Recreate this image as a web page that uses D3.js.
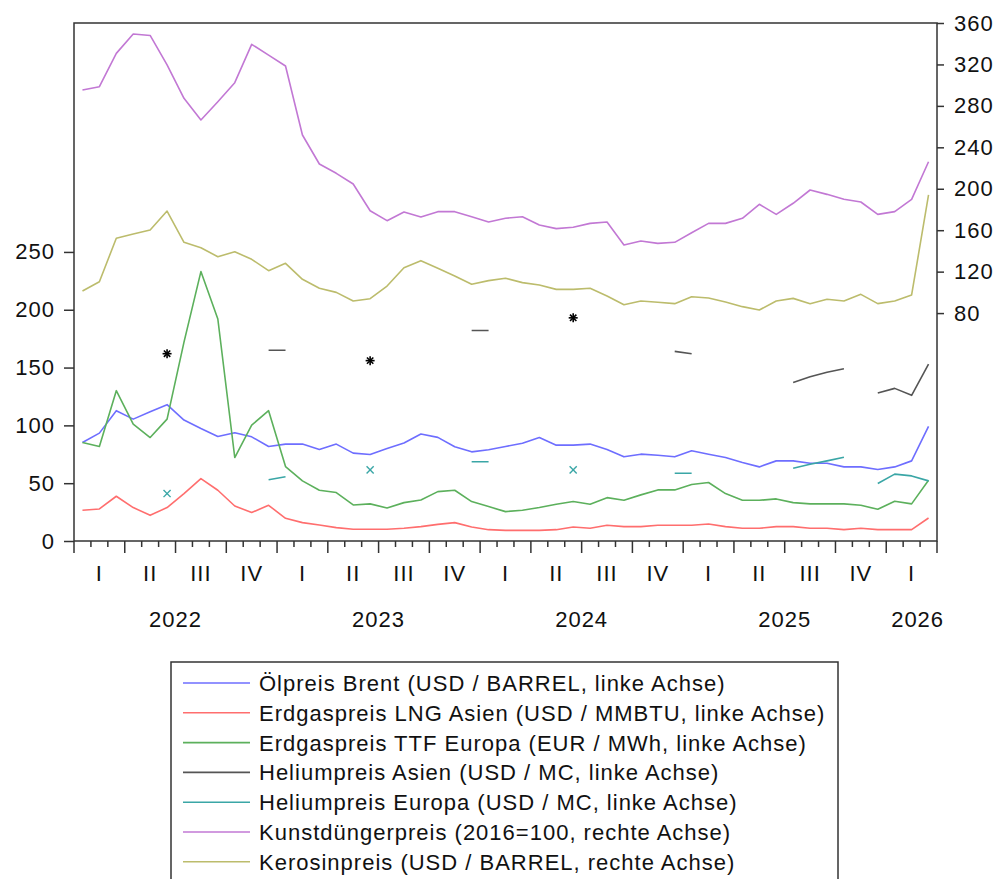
<!DOCTYPE html>
<html>
<head>
<meta charset="utf-8">
<script src="https://cdn.jsdelivr.net/npm/d3@7"></script>
<style>
  html, body { margin: 0; padding: 0; background: #fff; }
  svg { display: block; font-family: "Liberation Sans", Arial, sans-serif; }
  svg text { letter-spacing: 1px; }
</style>
</head>
<body>
<div id="chart"></div>
<script>
// monthly observations Jan 2022 .. Mar 2026 (51 months)
var months = ["2022-01","2022-02","2022-03","2022-04","2022-05","2022-06","2022-07","2022-08","2022-09","2022-10","2022-11","2022-12",
              "2023-01","2023-02","2023-03","2023-04","2023-05","2023-06","2023-07","2023-08","2023-09","2023-10","2023-11","2023-12",
              "2024-01","2024-02","2024-03","2024-04","2024-05","2024-06","2024-07","2024-08","2024-09","2024-10","2024-11","2024-12",
              "2025-01","2025-02","2025-03","2025-04","2025-05","2025-06","2025-07","2025-08","2025-09","2025-10","2025-11","2025-12",
              "2026-01","2026-02","2026-03"];
var quarterLabels = ["I","II","III","IV"];
var years = ["2022","2023","2024","2025","2026"];
var leftTicks = [0, 50, 100, 150, 200, 250];
var rightTicks = [80, 120, 160, 200, 240, 280, 320, 360];

// left axis series
var brent = [85.2,93.3,112.7,105.4,111.8,117.9,104.6,97.3,90.4,93.6,
             90.1,81.7,83.8,83.8,79.1,83.8,76,74.8,80,84.7,
             92.5,89.6,81.5,77.1,78.9,81.7,84.6,89.5,82.9,82.9,
             83.8,79.1,72.8,75.1,74.2,72.8,78,75.1,72.2,67.9,
             64.1,69.3,69.3,67.3,67.3,64.1,64.1,61.8,64.1,69.3,99.1];
var lngAsia = [26.6,27.7,38.7,28.9,22.2,28.9,41,54,43.9,30.3,
               24.6,30.9,19.6,15.9,13.9,11.6,10.1,10.1,10.1,11,
               12.4,14.4,15.9,12.1,9.8,9.2,9.2,9.2,9.8,12.1,
               11,13.6,12.4,12.4,13.6,13.6,13.6,14.7,12.4,11,
               11,12.4,12.4,11,11,9.8,11,9.8,9.8,9.8,19.9];
var ttf = [85.2,81.7,130,101.1,89.5,105.4,172,233,192,72.2,
           100.2,112.7,64.4,52,43.9,41.9,31.2,32.1,28.6,33.2,
           35.5,42.7,43.9,34.1,29.8,25.4,26.6,28.9,31.8,34.1,
           31.8,37.5,35.2,39.9,44.2,44.2,48.8,50.6,41,35.2,
           35.2,36.4,33.2,32.1,32.1,32.1,30.9,27.4,34.4,32.1,52.6];
var heliumAsia = [null,null,null,null,null,162,null,null,null,null,
                  null,165,165,null,null,null,null,156,null,null,
                  null,null,null,182,182,null,null,null,null,193,
                  null,null,null,null,null,164,162,null,null,null,
                  null,null,137,142,146,149,null,128,132,126,153];
var heliumEuropa = [null,null,null,null,null,41,null,null,null,null,
                    null,53,55.5,null,null,null,null,61.5,null,null,
                    null,null,null,68.5,68.5,null,null,null,null,61.5,
                    null,null,null,null,null,58.6,58.6,null,null,null,
                    null,null,63,66.4,69.3,72.5,null,49.7,57.8,56.3,52];
// right axis series
var duenger = [295.3,298.5,330.7,349.4,348,319.5,287.3,266.4,284,302.4,
               339.4,329,318.5,251.9,223.9,214.9,204.6,178.8,169.2,177.6,
               172.7,177.9,177.9,173,167.9,171.5,173,165,161.5,162.8,
               166.6,167.9,145.7,149.6,147.3,148.3,157.6,166.6,166.6,171.5,
               185,175.3,186,198.8,194.6,189.8,187.2,175.3,177.9,189.8,226.1];
var kerosin = [101.3,110.3,152.2,156.3,160.2,178.5,148.3,143.1,134.4,139.2,
               131.9,120.9,128,112.6,103.9,100,91.7,93.9,106.1,123.8,
               130.6,123.2,115.8,107.8,111.3,113.6,109.4,107.1,102.9,102.9,
               103.9,96.5,88.1,91.7,90.4,89.1,95.8,94.6,90.7,86.2,
               83,91.7,94.2,89.1,93.3,91.7,98.1,89.1,91.7,97.5,194];

var series = [
  { name: "Ölpreis Brent (USD / BARREL, linke Achse)", values: brent, axis: "L", color: "#6e6eff", mark: null },
  { name: "Erdgaspreis LNG Asien (USD / MMBTU, linke Achse)", values: lngAsia, axis: "L", color: "#ff6e6e", mark: null },
  { name: "Erdgaspreis TTF Europa (EUR / MWh, linke Achse)", values: ttf, axis: "L", color: "#5cb05c", mark: null },
  { name: "Heliumpreis Asien (USD / MC, linke Achse)", values: heliumAsia, axis: "L", color: "#555555", mark: "star" },
  { name: "Heliumpreis Europa (USD / MC, linke Achse)", values: heliumEuropa, axis: "L", color: "#3aa6a6", mark: "cross" },
  { name: "Kunstdüngerpreis (2016=100, rechte Achse)", values: duenger, axis: "R", color: "#c278d4", mark: null },
  { name: "Kerosinpreis (USD / BARREL, rechte Achse)", values: kerosin, axis: "R", color: "#bcbc6c", mark: null }
];

var W = 1002, H = 879;
var P = { l: 74, r: 937, t: 23, b: 541 };
var FS = 22;

var svg = d3.select("#chart").append("svg").attr("width", W).attr("height", H);

var x = d3.scaleLinear().domain([0, months.length]).range([P.l, P.r]);
var yL = d3.scaleLinear().domain([0, 448]).range([P.b, P.t]);
var yR = d3.scaleLinear().domain([-140, 360]).range([P.b, P.t]);

// ---- series lines -------------------------------------------------------
var gLines = svg.append("g");
series.forEach(function (s) {
  var y = s.axis === "L" ? yL : yR;
  var line = d3.line()
    .defined(function (d) { return d != null; })
    .x(function (d, i) { return x(i + 0.5); })
    .y(function (d) { return y(d); });
  gLines.append("path").datum(s.values)
    .attr("d", line).attr("fill", "none")
    .attr("stroke", s.color).attr("stroke-width", 1.6)
    .attr("stroke-linejoin", "round");
  // isolated observations get a symbol (no neighbour to connect to)
  s.values.forEach(function (v, i) {
    if (v == null) return;
    var prev = i > 0 ? s.values[i - 1] : null, next = i < s.values.length - 1 ? s.values[i + 1] : null;
    if (prev != null || next != null) return;
    var cx = x(i + 0.5), cy = y(v);
    var gm = gLines.append("g").attr("transform", "translate(" + cx + "," + cy + ")");
    if (s.mark === "star") {
      [0, 45, 90, 135].forEach(function (a) {
        gm.append("line").attr("x1", -4.5).attr("x2", 4.5).attr("y1", 0).attr("y2", 0)
          .attr("transform", "rotate(" + a + ")")
          .attr("stroke", "#000").attr("stroke-width", 1.6);
      });
    } else {
      [45, 135].forEach(function (a) {
        gm.append("line").attr("x1", -5).attr("x2", 5).attr("y1", 0).attr("y2", 0)
          .attr("transform", "rotate(" + a + ")")
          .attr("stroke", s.color).attr("stroke-width", 1.4);
      });
    }
  });
});

// ---- frame & axes -------------------------------------------------------
var AX = "#333";
svg.append("rect").attr("x", P.l).attr("y", P.t)
  .attr("width", P.r - P.l).attr("height", P.b - P.t)
  .attr("fill", "none").attr("stroke", AX).attr("stroke-width", 1.5);

var axL = svg.append("g").attr("transform", "translate(" + P.l + ",0)")
  .call(d3.axisLeft(yL).tickValues(leftTicks).tickSize(10).tickPadding(9).tickFormat(d3.format("d")));
var axR = svg.append("g").attr("transform", "translate(" + P.r + ",0)")
  .call(d3.axisRight(yR).tickValues(rightTicks).tickSize(7).tickPadding(10).tickFormat(d3.format("d")));
[axL, axR].forEach(function (a) {
  a.select(".domain").remove();
  a.selectAll("line").attr("stroke", AX).attr("stroke-width", 1.5);
  a.selectAll("text").attr("fill", "#111").style("font-size", FS + "px")
    .style("font-family", "'Liberation Sans', Arial, sans-serif");
});

var monthTicks = d3.range(0, months.length + 1);
var gX = svg.append("g").attr("transform", "translate(0," + P.b + ")");
gX.selectAll("line").data(monthTicks).enter().append("line")
  .attr("x1", function (d) { return x(d); }).attr("x2", function (d) { return x(d); })
  .attr("y1", 0).attr("y2", function (d) { return d % 3 === 0 ? 12 : 6; })
  .attr("stroke", AX).attr("stroke-width", 1.5);

var nQ = months.length / 3;
gX.selectAll("text.q").data(d3.range(nQ)).enter().append("text")
  .attr("class", "q")
  .attr("x", function (q) { return x(q * 3 + 1.5); }).attr("y", 40)
  .attr("text-anchor", "middle").attr("fill", "#111").style("font-size", FS + "px")
  .text(function (q) { return quarterLabels[q % 4]; });

gX.selectAll("text.y").data(years).enter().append("text")
  .attr("class", "y")
  .attr("x", function (d, k) {
    var a = k * 12, b = Math.min(months.length, a + 12);
    return x((a + b) / 2) + (b - a < 12 ? 6 : 0);
  })
  .attr("y", 86)
  .attr("text-anchor", "middle").attr("fill", "#111").style("font-size", FS + "px")
  .text(function (d) { return d; });

// ---- legend -------------------------------------------------------------
var LG = { x: 171, y: 662, w: 667, h: 240, row: 29.8 };
var gLeg = svg.append("g");
gLeg.append("rect").attr("x", LG.x).attr("y", LG.y).attr("width", LG.w).attr("height", LG.h)
  .attr("fill", "#fff").attr("stroke", AX).attr("stroke-width", 1.5);
series.forEach(function (s, k) {
  var yy = LG.y + 21 + k * LG.row;
  gLeg.append("line").attr("x1", LG.x + 12).attr("x2", LG.x + 79)
    .attr("y1", yy).attr("y2", yy).attr("stroke", s.color).attr("stroke-width", 1.6);
  gLeg.append("text").attr("x", LG.x + 88).attr("y", yy + 8)
    .attr("fill", "#111").style("font-size", "22px").text(s.name);
});
</script>
</body>
</html>
